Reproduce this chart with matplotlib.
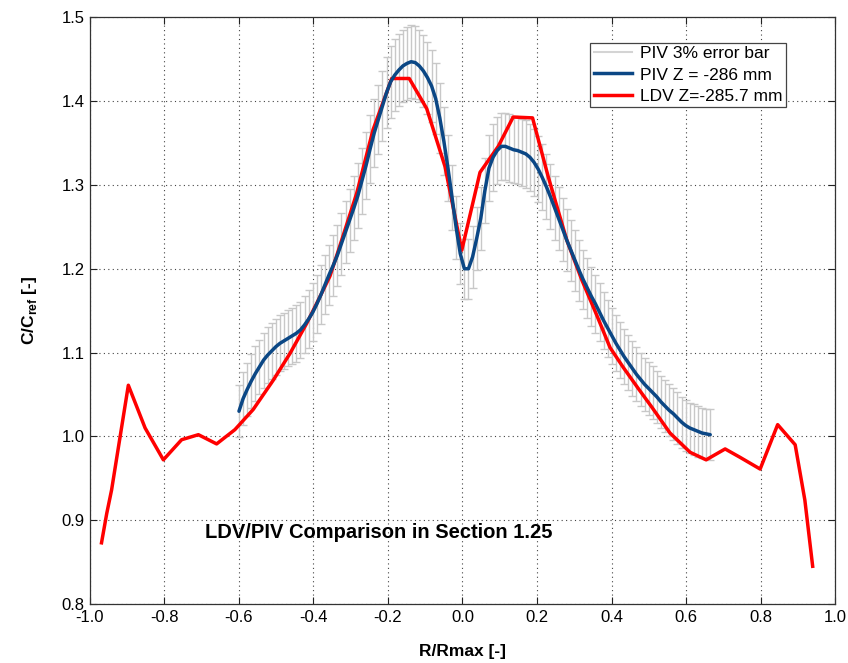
import matplotlib
matplotlib.use("Agg")
import matplotlib.pyplot as plt
from matplotlib.lines import Line2D
import numpy as np

plt.rcParams['font.family'] = ['Liberation Sans', 'DejaVu Sans']
plt.rcParams['mathtext.fontset'] = 'custom'
plt.rcParams['mathtext.rm'] = 'Liberation Sans'
plt.rcParams['mathtext.bf'] = 'Liberation Sans:bold'

# PIV data (R/Rmax, C/Cref)
piv_r = [-0.600,-0.589,-0.578,-0.567,-0.556,-0.545,-0.534,-0.523,-0.512,-0.501,
         -0.490,-0.479,-0.468,-0.457,-0.446,-0.435,-0.424,-0.413,-0.402,-0.391,
         -0.380,-0.369,-0.358,-0.347,-0.336,-0.325,-0.314,-0.303,-0.292,-0.281,
         -0.270,-0.259,-0.248,-0.237,-0.226,-0.215,-0.204,-0.193,-0.182,-0.171,
         -0.160,-0.149,-0.138,-0.127,-0.116,-0.105,-0.094,-0.083,-0.072,-0.061,
         -0.050,-0.039,-0.028,-0.017,-0.006,0.005,0.016,0.027,0.038,0.049,
         0.060,0.071,0.082,0.093,0.104,0.115,0.126,0.137,0.148,0.159,
         0.170,0.181,0.192,0.203,0.214,0.225,0.236,0.247,0.258,0.269,
         0.280,0.291,0.302,0.313,0.324,0.335,0.346,0.357,0.368,0.379,
         0.390,0.401,0.412,0.423,0.434,0.445,0.456,0.467,0.478,0.489,
         0.500,0.511,0.522,0.533,0.544,0.555,0.566,0.577,0.588,0.599,
         0.610,0.621,0.632,0.643,0.654,0.665]
piv_c = [1.030,1.045,1.056,1.066,1.075,1.083,1.091,1.097,1.102,1.107,
         1.111,1.114,1.117,1.120,1.123,1.127,1.133,1.140,1.148,1.158,
         1.169,1.181,1.193,1.204,1.216,1.230,1.244,1.258,1.272,1.287,
         1.305,1.323,1.343,1.362,1.378,1.394,1.410,1.423,1.431,1.437,
         1.442,1.445,1.447,1.446,1.442,1.436,1.428,1.418,1.403,1.380,
         1.352,1.320,1.285,1.249,1.218,1.200,1.200,1.214,1.236,1.260,
         1.293,1.320,1.333,1.341,1.346,1.346,1.344,1.342,1.341,1.339,
         1.337,1.333,1.327,1.319,1.309,1.298,1.286,1.273,1.260,1.247,
         1.234,1.222,1.210,1.198,1.187,1.177,1.167,1.158,1.148,1.138,
         1.129,1.120,1.111,1.103,1.095,1.088,1.081,1.074,1.068,1.062,
         1.057,1.052,1.047,1.041,1.036,1.031,1.027,1.022,1.017,1.013,
         1.010,1.008,1.006,1.004,1.003,1.002]
piv_err_frac = 0.03

# LDV data
ldv_r = [-0.969,-0.955,-0.942,-0.897,-0.852,-0.803,-0.754,-0.709,-0.660,-0.611,
         -0.562,-0.508,-0.463,-0.418,-0.391,-0.356,-0.333,-0.284,-0.240,-0.190,
         -0.143,-0.096,-0.047,-0.002,0.047,0.096,0.136,0.188,0.230,0.280,
         0.320,0.360,0.396,0.432,0.472,0.508,0.557,0.611,0.654,0.705,
         0.745,0.799,0.846,0.893,0.919,0.940]
ldv_c = [0.873,0.908,0.936,1.061,1.010,0.972,0.996,1.002,0.991,1.008,
         1.032,1.067,1.099,1.135,1.159,1.191,1.222,1.290,1.366,1.427,
         1.427,1.391,1.322,1.222,1.315,1.346,1.381,1.380,1.310,1.234,
         1.187,1.145,1.106,1.082,1.057,1.035,1.004,0.981,0.972,0.985,
         0.975,0.961,1.014,0.990,0.924,0.845]

xticks = [-1.0,-0.8,-0.6,-0.4,-0.2,0.0,0.2,0.4,0.6,0.8,1.0]
yticks = [0.8,0.9,1.0,1.1,1.2,1.3,1.4,1.5]
legend_labels = ['PIV 3% error bar', 'PIV Z = -286 mm', 'LDV Z=-285.7 mm']

fig = plt.figure(figsize=(8.48, 6.63), dpi=100)
ax = fig.add_axes([0.1061, 0.0890, 0.8786, 0.8849])

piv_c_arr = np.array(piv_c)
eb = ax.errorbar(piv_r, piv_c, yerr=piv_err_frac * piv_c_arr, fmt='-', color='#d4d4d4',
                 lw=1.0, ecolor='#c8c8c8', elinewidth=1.0, capsize=3.0, capthick=1.0, zorder=2)
for cap in eb[1]:
    cap.set_color('#a0a0a0')

ax.plot(piv_r, piv_c, color='#0b4785', lw=2.5, zorder=4, solid_capstyle='round')
ax.plot(ldv_r, ldv_c, color='#ff0000', lw=2.5, zorder=3, solid_joinstyle='round')

ax.set_xlim(-1.0, 1.0)
ax.set_ylim(0.8, 1.5)
ax.set_xticks(xticks)
ax.set_xticklabels([f"{t:.1f}" for t in xticks])
ax.set_yticks(yticks)
ax.set_yticklabels([f"{t:.1f}" for t in yticks])
ax.tick_params(direction='in', length=5, width=0.8, top=True, right=True,
               labelsize=12, colors='#222222', labelcolor='black', pad=4)
ax.grid(True, linestyle=(0, (1, 3)), color='#444444', linewidth=0.8)
for s in ax.spines.values():
    s.set_color('#333333')
    s.set_linewidth(0.9)

ax.set_xlabel('R/Rmax [-]', fontsize=12.5, fontweight='bold', labelpad=14)
ax.set_ylabel(r'C/C$_\mathbf{ref}$ [-]', fontsize=12.5, fontweight='bold', labelpad=16)

ax.text(-0.691, 0.879, 'LDV/PIV Comparison in Section 1.25', fontsize=14.5,
        fontweight='bold', va='baseline', ha='left', zorder=5)

handles = [Line2D([], [], color='#d4d4d4', lw=1.5),
           Line2D([], [], color='#0b4785', lw=2.5),
           Line2D([], [], color='#ff0000', lw=2.5)]
leg = ax.legend(handles, legend_labels, loc='upper right', bbox_to_anchor=(0.934, 0.957),
                borderaxespad=0, fontsize=12.5, fancybox=False, framealpha=1,
                edgecolor='#444444', handlelength=2.2, handletextpad=0.45,
                labelspacing=0.36, borderpad=0.2)
leg.get_frame().set_linewidth(0.9)

fig.savefig('out.png', dpi=100)
